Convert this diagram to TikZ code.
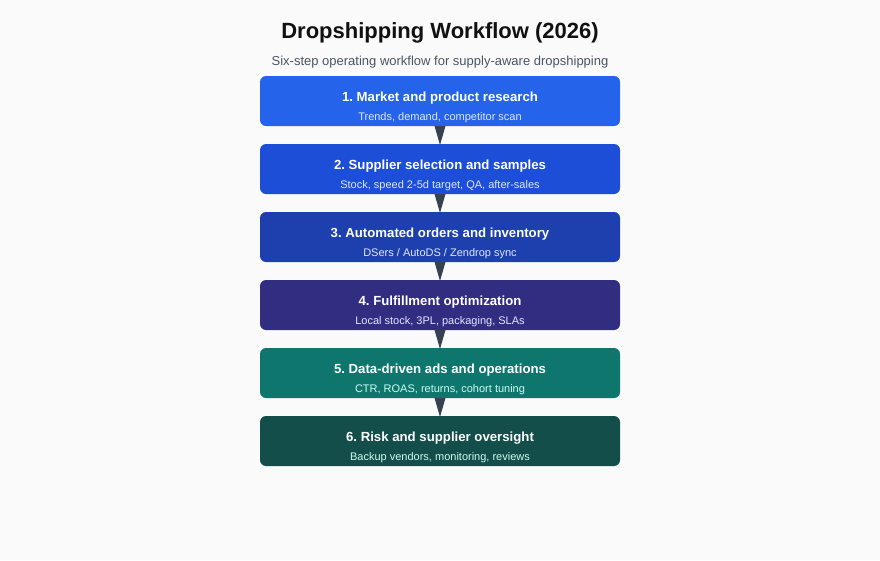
\documentclass[tikz,border=0pt]{standalone}
\usepackage{fontspec}
\setmainfont{Liberation Sans}
\usepackage{tikz}
\usetikzlibrary{positioning}
\frenchspacing

\definecolor{pagebg}{HTML}{FAFAFA}
\definecolor{titlec}{HTML}{111111}
\definecolor{subc}{HTML}{4B5563}
\definecolor{arrowc}{HTML}{374151}
\definecolor{c1}{HTML}{2563EB}
\definecolor{c2}{HTML}{1D4ED8}
\definecolor{c3}{HTML}{1E40AF}
\definecolor{c4}{HTML}{312E81}
\definecolor{c5}{HTML}{0F766E}
\definecolor{c6}{HTML}{134E4A}
\definecolor{blueinfo}{HTML}{E0E7FF}
\definecolor{tealinfo}{HTML}{CCFBF1}

\begin{document}
\begin{tikzpicture}[x=1pt, y=-1pt,
    stepbox/.style={rectangle, rounded corners=6pt, minimum width=360pt, minimum height=50pt, inner sep=0pt, outer sep=0pt},
    steptitle/.style={text=white, font=\fontsize{13.2}{15}\selectfont\bfseries, inner sep=0pt},
    stepinfo/.style={font=\fontsize{11}{13}\selectfont, inner sep=0pt}]

    \fill [pagebg] (0,0) rectangle (880,560);
    \useasboundingbox (0,0) rectangle (880,560);

    \node [text=titlec, font=\fontsize{22}{26}\selectfont\bfseries] (title) at (440,33) {Dropshipping Workflow (2026)};
    \node [text=subc, font=\fontsize{13}{15}\selectfont] (subtitle) at (440,62) {Six-step operating workflow for supply-aware dropshipping};

    \node [stepbox, fill=c1] (step1) at (440,101) {};
    \node [stepbox, fill=c2, below=18pt of step1] (step2) {};
    \node [stepbox, fill=c3, below=18pt of step2] (step3) {};
    \node [stepbox, fill=c4, below=18pt of step3] (step4) {};
    \node [stepbox, fill=c5, below=18pt of step4] (step5) {};
    \node [stepbox, fill=c6, below=18pt of step5] (step6) {};

    \node [steptitle] (t1) at ([yshift=-22.5pt]step1.north) {1. Market and product research};
    \node [stepinfo, text=blueinfo] (i1) at ([yshift=-41.5pt]step1.north) {Trends, demand, competitor scan};
    \node [steptitle] (t2) at ([yshift=-22.5pt]step2.north) {2. Supplier selection and samples};
    \node [stepinfo, text=blueinfo] (i2) at ([yshift=-41.5pt]step2.north) {Stock, speed 2-5d target, QA, after-sales};
    \node [steptitle] (t3) at ([yshift=-22.5pt]step3.north) {3. Automated orders and inventory};
    \node [stepinfo, text=blueinfo] (i3) at ([yshift=-41.5pt]step3.north) {DSers / AutoDS / Zendrop sync};
    \node [steptitle] (t4) at ([yshift=-22.5pt]step4.north) {4. Fulfillment optimization};
    \node [stepinfo, text=blueinfo] (i4) at ([yshift=-41.5pt]step4.north) {Local stock, 3PL, packaging, SLAs};
    \node [steptitle] (t5) at ([yshift=-22.5pt]step5.north) {5. Data-driven ads and operations};
    \node [stepinfo, text=tealinfo] (i5) at ([yshift=-41.5pt]step5.north) {CTR, ROAS, returns, cohort tuning};
    \node [steptitle] (t6) at ([yshift=-22.5pt]step6.north) {6. Risk and supplier oversight};
    \node [stepinfo, text=tealinfo] (i6) at ([yshift=-41.5pt]step6.north) {Backup vendors, monitoring, reviews};

    \fill [arrowc] ([xshift=-5.5pt]step1.south) -- ([xshift=5.5pt]step1.south) -- ([yshift=-1pt]step2.north) -- cycle;
    \fill [arrowc] ([xshift=-5.5pt]step2.south) -- ([xshift=5.5pt]step2.south) -- ([yshift=-1pt]step3.north) -- cycle;
    \fill [arrowc] ([xshift=-5.5pt]step3.south) -- ([xshift=5.5pt]step3.south) -- ([yshift=-1pt]step4.north) -- cycle;
    \fill [arrowc] ([xshift=-5.5pt]step4.south) -- ([xshift=5.5pt]step4.south) -- ([yshift=-1pt]step5.north) -- cycle;
    \fill [arrowc] ([xshift=-5.5pt]step5.south) -- ([xshift=5.5pt]step5.south) -- ([yshift=-1pt]step6.north) -- cycle;
\end{tikzpicture}
\end{document}
